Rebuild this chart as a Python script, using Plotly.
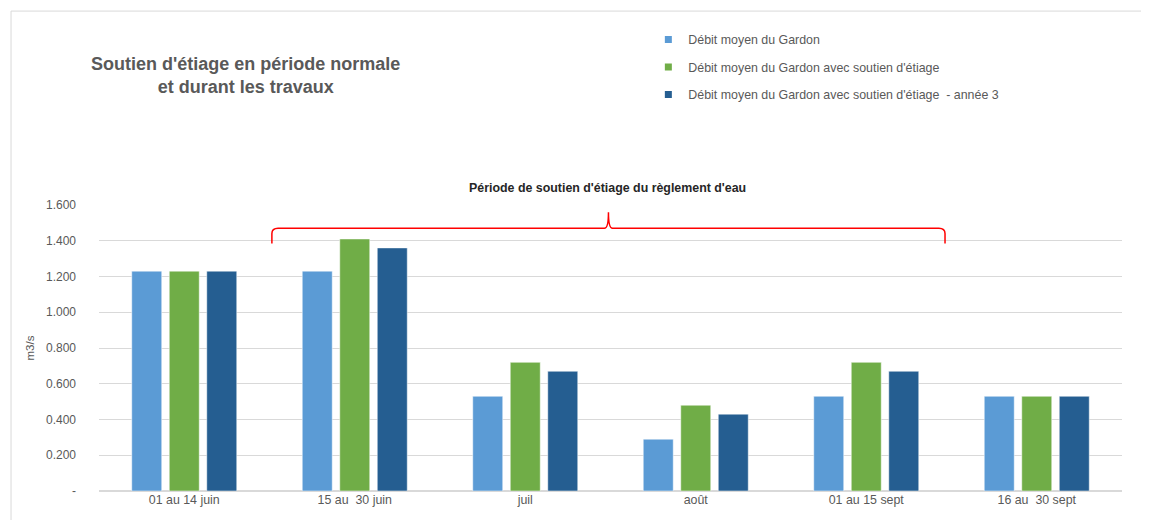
import plotly.graph_objects as go

periodes = ["01 au 14 juin", "15 au  30 juin", "juil", "août", "01 au 15 sept", "16 au  30 sept"]
debit_moyen = [1.23, 1.23, 0.53, 0.29, 0.53, 0.53]
debit_soutien = [1.23, 1.41, 0.72, 0.48, 0.72, 0.53]
debit_soutien_an3 = [1.23, 1.36, 0.67, 0.43, 0.67, 0.53]

noms = [
    "Débit moyen du Gardon",
    "Débit moyen du Gardon avec soutien d'étiage",
    "Débit moyen du Gardon avec soutien d'étiage  - année 3",
]
couleurs = ["#5B9BD5", "#70AD47", "#255E91"]

y_ticks = [0, 0.2, 0.4, 0.6, 0.8, 1.0, 1.2, 1.4, 1.6]
y_ticktext = ["-", "0.200", "0.400", "0.600", "0.800", "1.000", "1.200", "1.400", "1.600"]

fig = go.Figure()
for nom, vals, col in zip(noms, [debit_moyen, debit_soutien, debit_soutien_an3], couleurs):
    fig.add_trace(go.Bar(
        x=periodes, y=vals, name=nom, showlegend=False,
        marker=dict(color=col, line=dict(color="rgba(255,255,255,0.5)", width=1)),
    ))
    # legend entry with a small square
    fig.add_trace(go.Scatter(
        x=[None], y=[None], mode="markers", name=nom, legendgroup=nom,
        marker=dict(symbol="square", size=7, color=col),
    ))

# brace over the support period (paper x, data y)
x0, x1, xm = 0.169, 0.827, 0.498
yl, yb, yp = 1.47, 1.385, 1.56
brace = (f"M {x0},{yb} L {x0},{yl-0.03} Q {x0},{yl} {x0+0.006},{yl} "
         f"L {xm-0.004},{yl} Q {xm},{yl} {xm},{yp} Q {xm},{yl} {xm+0.004},{yl} "
         f"L {x1-0.006},{yl} Q {x1},{yl} {x1},{yl-0.03} L {x1},{yb}")
fig.add_shape(type="path", path=brace, xref="paper", yref="y",
              line=dict(color="#FF0000", width=1.5))

# outer frame lines (top and left)
fig.add_shape(type="line", xref="paper", yref="paper", x0=-0.086, x1=1.05, y0=1.678, y1=1.678,
              line=dict(color="#D9D9D9", width=1))
fig.add_shape(type="line", xref="paper", yref="paper", x0=-0.086, x1=-0.086, y0=1.678, y1=-0.2,
              line=dict(color="#D9D9D9", width=1))

fig.add_annotation(text="<b>Soutien d'étiage en période normale<br>et durant les travaux</b>",
                   xref="paper", yref="paper", x=0.143, y=1.452, showarrow=False,
                   font=dict(size=18, color="#595959", family="Liberation Sans"),
                   xanchor="center", yanchor="middle")
fig.add_annotation(text="<b>Période de soutien d'étiage du règlement d'eau</b>",
                   xref="paper", yref="paper", x=0.497, y=1.06, showarrow=False,
                   font=dict(size=12.4, color="#262626", family="Liberation Sans"),
                   xanchor="center", yanchor="middle")

fig.update_layout(
    width=1141, height=512,
    margin=dict(l=91, r=27, t=197, b=29),
    paper_bgcolor="white", plot_bgcolor="white",
    font=dict(family="Liberation Sans", color="#595959", size=12),
    barmode="group", bargap=0.34, bargroupgap=0.2,
    legend=dict(x=0.537, y=1.63, xanchor="left", yanchor="top",
                font=dict(size=12.4, color="#595959"), tracegroupgap=8.5,
                bgcolor="rgba(0,0,0,0)"),
    xaxis=dict(showgrid=False, showline=False, ticks="", tickfont=dict(size=12.4, color="#595959")),
    yaxis=dict(range=[0, 1.6], tickvals=y_ticks, ticktext=y_ticktext,
               gridcolor="#D9D9D9", gridwidth=1, zeroline=True, zerolinecolor="#D9D9D9",
               tickfont=dict(size=12, color="#595959"), ticklabelstandoff=22,
               title=dict(text="m3/s", font=dict(size=11.5, color="#595959"), standoff=8)),
)

fig.write_html("out.html")
